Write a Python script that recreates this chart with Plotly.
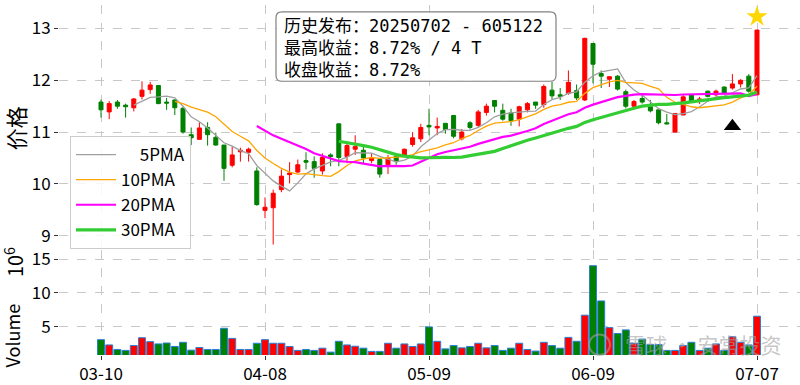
import plotly.graph_objects as go
import pandas as pd

# ---------------- data ----------------
tick_pos = [0, 20, 40, 60, 80]
tick_labels = ["03-10", "04-08", "05-09", "06-09", "07-07"]

opens = [11.58, 11.39, 11.58, 11.52, 11.47, 11.69, 11.82, 11.90, 11.58, 11.62,
         11.46, 10.95, 10.86, 11.09, 10.90, 10.75, 10.36, 10.62, 10.61, 10.25,
         9.49, 9.54, 9.89, 10.18, 10.23, 10.45, 10.43, 10.25, 10.56, 11.16,
         10.53, 10.67, 10.65, 10.45, 10.47, 10.37, 10.53, 10.56, 10.76, 10.87,
         11.13, 11.08, 11.17, 11.32, 10.87, 11.18, 11.13, 11.38, 11.61, 11.42,
         11.37, 11.25, 11.43, 11.58, 11.53, 11.81, 11.72, 11.75, 11.80, 11.62,
         12.71, 12.13, 12.02, 12.08, 11.78, 11.50, 11.65, 11.49, 11.43, 11.18,
         11.00, 11.33, 11.72, 11.59, 11.79, 11.72, 11.87, 11.85, 11.93, 12.08,
         11.72]
highs = [11.63, 11.60, 11.62, 11.55, 11.66, 11.98, 11.97, 11.90, 11.66, 11.63,
         11.49, 11.09, 11.19, 11.19, 10.99, 10.75, 10.72, 10.70, 10.70, 10.32,
         9.74, 9.89, 10.28, 10.42, 10.47, 10.61, 10.53, 10.59, 10.59, 11.16,
         10.81, 10.94, 10.72, 10.59, 10.50, 10.56, 10.59, 10.68, 11.00, 11.16,
         11.45, 11.28, 11.17, 11.33, 11.06, 11.21, 11.43, 11.55, 11.62, 11.55,
         11.45, 11.51, 11.58, 11.58, 11.92, 11.97, 11.85, 12.19, 11.92, 12.82,
         12.71, 12.19, 12.07, 12.10, 11.82, 11.62, 11.75, 11.62, 11.43, 11.35,
         11.36, 11.72, 11.72, 11.68, 11.80, 11.82, 11.88, 12.12, 12.02, 12.12,
         12.97]
lows = [11.28, 11.25, 11.45, 11.28, 11.40, 11.63, 11.74, 11.54, 11.43, 11.33,
        10.97, 10.75, 10.86, 10.74, 10.74, 10.06, 10.32, 10.43, 10.43, 9.58,
        9.34, 8.83, 9.84, 10.01, 10.21, 10.28, 10.12, 10.18, 10.34, 10.34,
        10.40, 10.56, 10.40, 10.40, 10.12, 10.19, 10.37, 10.52, 10.72, 10.81,
        10.94, 10.94, 10.97, 10.88, 10.84, 11.05, 11.10, 11.32, 11.38, 11.22,
        11.12, 11.11, 11.38, 11.45, 11.47, 11.64, 11.62, 11.72, 11.62, 11.60,
        11.94, 11.85, 11.87, 11.80, 11.46, 11.48, 11.55, 11.38, 11.15, 11.15,
        11.00, 11.33, 11.58, 11.54, 11.67, 11.69, 11.72, 11.82, 11.86, 11.76,
        11.72]
closes = [11.43, 11.55, 11.50, 11.49, 11.64, 11.81, 11.91, 11.55, 11.56, 11.47,
          11.00, 10.89, 11.08, 10.95, 10.75, 10.30, 10.56, 10.65, 10.67, 9.60,
          9.55, 9.82, 10.15, 10.21, 10.37, 10.42, 10.30, 10.51, 10.53, 10.51,
          10.74, 10.72, 10.50, 10.50, 10.19, 10.50, 10.43, 10.67, 10.89, 11.09,
          11.10, 11.11, 11.05, 10.92, 11.00, 11.09, 11.39, 11.50, 11.50, 11.25,
          11.22, 11.49, 11.55, 11.52, 11.88, 11.70, 11.69, 11.96, 11.66, 12.81,
          12.31, 12.08, 12.07, 11.83, 11.50, 11.59, 11.58, 11.41, 11.18, 11.16,
          11.36, 11.68, 11.60, 11.64, 11.69, 11.79, 11.75, 11.93, 12.00, 11.79,
          12.97]
volumes_m = [3.07, 2.29, 1.62, 1.48, 2.20, 3.36, 2.78, 2.44, 2.58, 2.06,
             2.68, 1.52, 1.91, 1.62, 1.62, 4.76, 3.26, 1.62, 1.62, 2.54,
             3.07, 2.54, 2.54, 2.06, 1.48, 1.62, 1.48, 1.81, 1.23, 2.83,
             2.29, 2.10, 1.81, 1.33, 1.33, 2.54, 1.81, 2.44, 2.06, 2.44,
             4.96, 2.83, 1.71, 2.20, 1.86, 2.06, 2.54, 1.86, 2.20, 1.48,
             1.81, 2.54, 1.62, 1.38, 2.68, 2.20, 1.81, 3.41, 2.83, 6.70,
             14.03, 8.81, 4.86, 3.99, 4.52, 2.54, 3.16, 2.35, 2.35, 1.48,
             1.48, 2.20, 2.68, 1.48, 1.81, 2.44, 1.48, 3.50, 2.68, 2.29,
             6.55]
release_idx = 77
ma_windows = [5, 10, 20, 30]
ma_names = ["\u2007\u20075PMA", "10PMA", "20PMA", "30PMA"]
info_lines = ["历史发布：20250702 - 605122", "最高收益：8.72% / 4 T", "收盘收益：8.72%"]

# ---------------- derived ----------------
x = list(range(len(closes)))
close_s = pd.Series(closes)
UP, DOWN = "#ff0000", "#008000"
vol_colors = [UP if c >= o else DOWN for o, c in zip(opens, closes)]

FONT = "Noto Sans CJK SC"
W, H = 800, 385
L, R, T, B = 59, 800, 0, 358


def px(xp):
    return (xp - L) / (R - L)


def py(yp):
    return (B - yp) / (B - T)


fig = go.Figure()

fig.add_trace(go.Candlestick(
    x=x, open=opens, high=highs, low=lows, close=closes,
    increasing=dict(line=dict(color=UP, width=1), fillcolor=UP),
    decreasing=dict(line=dict(color=DOWN, width=1), fillcolor=DOWN),
    showlegend=False, xaxis="x", yaxis="y", whiskerwidth=0,
))

ma_styles = [("#a0a0a0", 1.3), ("#ffa500", 1.3), ("#ff00ff", 2.2), ("#32cd32", 3.2)]
for w, name, (col, lw) in zip(ma_windows, ma_names, ma_styles):
    ma = close_s.rolling(w).mean()
    fig.add_trace(go.Scatter(x=x, y=ma, mode="lines", name=name,
                             line=dict(color=col, width=lw),
                             xaxis="x", yaxis="y", legendgroup=name))

fig.add_trace(go.Scatter(x=[release_idx], y=[lows[release_idx] * 0.94], mode="markers",
                         marker=dict(symbol="triangle-up", size=15, color="black"),
                         showlegend=False, xaxis="x", yaxis="y"))
last = len(closes) - 1
fig.add_trace(go.Scatter(x=[last], y=[highs[last] * 1.02], mode="markers",
                         marker=dict(symbol="star", size=16, color="#ffd700"),
                         showlegend=False, xaxis="x", yaxis="y"))

fig.add_trace(go.Bar(x=x, y=volumes_m, marker=dict(color=vol_colors,
                                                   line=dict(color="#2b7fd4", width=1)),
                     width=0.85, showlegend=False, xaxis="x2", yaxis="y2"))

grid = dict(showgrid=True, gridcolor="#c8c8c8", gridwidth=0.8, griddash="dash",
            zeroline=False, showline=False)
xrange = [(L - 101) / 8.2, (R - 101) / 8.2]

fig.update_layout(
    width=W, height=H,
    margin=dict(l=L, r=W - R, t=T, b=H - B),
    plot_bgcolor="white", paper_bgcolor="white",
    font=dict(family=FONT, size=17, color="black"),
    xaxis=dict(domain=[0, 1], anchor="y", range=xrange, tickvals=tick_pos,
               showticklabels=False, ticks="", rangeslider=dict(visible=False), **grid),
    xaxis2=dict(domain=[0, 1], anchor="y2", range=xrange, matches="x", tickvals=tick_pos,
                ticktext=tick_labels, ticks="outside", ticklen=4, tickcolor="#333",
                tickfont=dict(size=17), **grid),
    yaxis=dict(domain=[py(249), 1], range=[8.755, 13.453], tickvals=[9, 10, 11, 12, 13],
               ticks="outside", ticklen=4, tickcolor="#333", tickfont=dict(size=17), **grid),
    yaxis2=dict(domain=[0, py(251)], range=[0.8, 16.3], tickvals=[5, 10, 15],
                ticks="outside", ticklen=4, tickcolor="#333", tickfont=dict(size=17), **grid),
    legend=dict(x=px(70), y=py(134), xanchor="left", yanchor="top",
                bgcolor="rgba(255,255,255,0.85)", bordercolor="#cccccc", borderwidth=1,
                font=dict(size=17, family=FONT), tracegroupgap=0, traceorder="grouped",
                itemwidth=40),
    bargap=0.15,
    showlegend=True,
)

# info box with rounded corners
x0, x1, y0, y1, r = 276, 556, 7, 78, 6
path = (f"M {px(x0 + r)},{py(y0)} L {px(x1 - r)},{py(y0)} Q {px(x1)},{py(y0)} {px(x1)},{py(y0 + r)} "
        f"L {px(x1)},{py(y1 - r)} Q {px(x1)},{py(y1)} {px(x1 - r)},{py(y1)} "
        f"L {px(x0 + r)},{py(y1)} Q {px(x0)},{py(y1)} {px(x0)},{py(y1 - r)} "
        f"L {px(x0)},{py(y0 + r)} Q {px(x0)},{py(y0)} {px(x0 + r)},{py(y0)} Z")
fig.add_shape(type="path", path=path, xref="paper", yref="paper",
              fillcolor="rgba(255,255,255,0.9)", line=dict(color="#808080", width=1.2),
              layer="above")
fig.add_annotation(x=px(282), y=py(44), xref="paper", yref="paper",
                   text="<br>".join(info_lines), align="left",
                   showarrow=False, xanchor="left", yanchor="middle",
                   font=dict(size=17, family="DejaVu Sans Mono, Noto Sans CJK SC", color="black"))

# axis titles
fig.add_annotation(x=px(15), y=py(126), xref="paper", yref="paper", text="价格",
                   textangle=-90, showarrow=False, xanchor="center", yanchor="middle",
                   font=dict(size=22, family=FONT))
fig.add_annotation(x=px(12), y=py(338), xref="paper", yref="paper", text="Volume",
                   textangle=-90, showarrow=False, xanchor="center", yanchor="middle",
                   font=dict(size=18, family=FONT))
fig.add_annotation(x=px(14), y=py(263), xref="paper", yref="paper", text="10<sup>6</sup>",
                   textangle=-90, showarrow=False, xanchor="center", yanchor="middle",
                   font=dict(size=20, family=FONT))

# watermark
fig.add_annotation(x=px(703), y=py(347), xref="paper", yref="paper", text="雪球 · 安常投资",
                   showarrow=False, xanchor="center", yanchor="middle",
                   font=dict(size=21, family=FONT, color="rgba(160,160,160,0.6)"))
fig.add_shape(type="circle", xref="paper", yref="paper",
              x0=px(589), x1=px(610), y0=py(358), y1=py(337),
              line=dict(color="rgba(160,160,160,0.6)", width=2))

fig.write_html("out.html", config={"displayModeBar": False},
               post_script="document.body.style.margin='0';")
